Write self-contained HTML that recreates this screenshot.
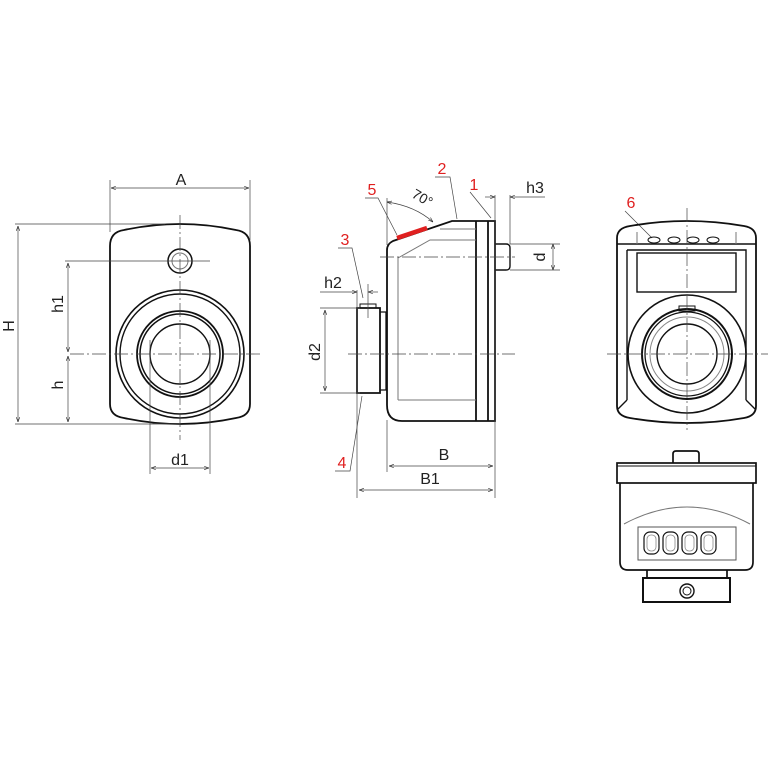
<!DOCTYPE html>
<html><head><style>html,body{margin:0;padding:0;background:#fff}svg{display:block}</style></head>
<body>
<svg width="768" height="768" viewBox="0 0 768 768" xmlns="http://www.w3.org/2000/svg" font-family="Liberation Sans, sans-serif">
<defs>
<marker id="a" viewBox="0 0 10 10" refX="10" refY="5" markerWidth="7" markerHeight="7" orient="auto-start-reverse"><path d="M0,1.5 L10,5 L0,8.5" fill="none" stroke="#222" stroke-width="1.2"/></marker>
</defs>
<g fill="none" stroke="#111">
<!-- LEFT VIEW -->
<path d="M110,246 Q110,232 124,230 Q180,218 236,230 Q250,232 250,246 L250,404 Q250,416 236,418 Q180,430 124,418 Q110,416 110,404 Z" stroke-width="1.8"/>
<circle cx="180" cy="261" r="12" stroke-width="1.5"/>
<circle cx="180" cy="261" r="8" stroke="#777" stroke-width="1"/>
<circle cx="180" cy="354" r="64" stroke-width="1.6"/>
<circle cx="180" cy="354" r="60" stroke-width="1.4"/>
<circle cx="180" cy="354" r="43" stroke-width="1.8"/>
<circle cx="180" cy="354" r="40" stroke-width="1.5"/>
<circle cx="180" cy="354" r="30" stroke-width="1.4"/>
</g>
<g stroke="#444" stroke-width="0.7" fill="none">
<path d="M70,354 H262" stroke-dasharray="14,3,2,3"/>
<path d="M180,215 V440" stroke-dasharray="14,3,2,3"/>
<path d="M110,180 V232 M250,180 V240 M15,224 H165 M15,424 H180 M65,261 H210 M150,340 V474 M210,340 V474"/>
<path d="M111,188 H249" marker-start="url(#a)" marker-end="url(#a)"/>
<path d="M18,226 V422" marker-start="url(#a)" marker-end="url(#a)"/>
<path d="M68,263 V352" marker-start="url(#a)" marker-end="url(#a)"/>
<path d="M68,356 V422" marker-start="url(#a)" marker-end="url(#a)"/>
<path d="M151,468 H209" marker-start="url(#a)" marker-end="url(#a)"/>
</g>
<g font-size="16" fill="#222" text-anchor="middle">
<text x="181" y="185">A</text>
<text x="180" y="465">d1</text>
<text transform="translate(14,326) rotate(-90)">H</text>
<text transform="translate(63,304) rotate(-90)">h1</text>
<text transform="translate(63,385) rotate(-90)">h</text>
</g>

<!-- SIDE VIEW -->
<g fill="none" stroke="#111" stroke-width="1.8">
<path d="M387,250 Q387,244 393,241 L452,221 H495 V421 H402 Q387,421 387,405 Z"/>
<path d="M476,221 V421 M488,221 V421"/>
<path d="M357,308 H380 V393 H357 Z"/>
<path d="M380,312 H386 V390 H380" stroke-width="1.3"/>
<path d="M360,308 V304 H376 V308" stroke-width="1"/>
<path d="M495,244 H506 Q510,244 510,248 V266 Q510,270 506,270 H495" stroke-width="1.4"/>
</g>
<g fill="none" stroke="#777" stroke-width="1">
<path d="M398,400 V258 L430,240 H476 M398,400 H476 M440,229 H476"/>
</g>
<path d="M397,238 L427,228" stroke="#e02020" stroke-width="4.5"/>
<g stroke="#444" stroke-width="0.7" fill="none">
<path d="M380,257 H515 M348,354 H515" stroke-dasharray="14,3,2,3"/>
<path d="M387,198 V245 M495,195 V498 M510,195 V244 M510,244 H560 M510,270 H560 M320,308 H360 M320,393 H360 M387,420 V472 M357,290 V498 M368,284 V318"/>
<path d="M485,197 H495" marker-end="url(#a)"/>
<path d="M545,197 H510" marker-end="url(#a)"/>
<path d="M553,244 V270" marker-start="url(#a)" marker-end="url(#a)"/>
<path d="M325,310 V391" marker-start="url(#a)" marker-end="url(#a)"/>
<path d="M320,292 H357" marker-end="url(#a)"/>
<path d="M378,292 H368" marker-end="url(#a)"/>
<path d="M389,466 H493" marker-start="url(#a)" marker-end="url(#a)"/>
<path d="M359,490 H493" marker-start="url(#a)" marker-end="url(#a)"/>
<path d="M387,202 Q415,206 433,222" marker-start="url(#a)" marker-end="url(#a)"/>
<path d="M365,198 H378 L397,235 M435,177 H450 L457,219 M470,192 L491,218 M338,248 H352 L363,298 M335,471 H350 L362,396 M625,211 L652,238"/>
</g>
<g font-size="16" fill="#222" text-anchor="middle">
<text x="535" y="193">h3</text>
<text x="333" y="288">h2</text>
<text x="444" y="460">B</text>
<text x="430" y="484">B1</text>
<text transform="translate(545,257) rotate(-90)">d</text>
<text transform="translate(320,352) rotate(-90)">d2</text>
<text transform="translate(420,202) rotate(30)" font-size="14">70°</text>
</g>
<g font-size="16" fill="#e02020" text-anchor="middle">
<text x="372" y="195">5</text>
<text x="442" y="174">2</text>
<text x="474" y="190">1</text>
<text x="345" y="245">3</text>
<text x="342" y="468">4</text>
<text x="631" y="208">6</text>
</g>

<!-- RIGHT TOP VIEW -->
<g fill="none" stroke="#111">
<path d="M617,238 Q617,228 630,226 Q687,216 744,226 Q756,228 756,238 V406 Q756,416 744,418 Q687,428 630,418 Q617,416 617,406 Z" stroke-width="1.8"/>
<path d="M617,244 H756 M627,250 H746 V400 M627,250 V400 M617,410 L627,400 M756,410 L746,400" stroke-width="1.4"/>
<rect x="637" y="253" width="99" height="39" stroke-width="1.4"/>
<path d="M637,232 V244 M736,232 V244" stroke="#777" stroke-width="1"/>
<circle cx="687" cy="354" r="59" stroke-width="1.6"/>
<circle cx="687" cy="354" r="45" stroke-width="2"/>
<circle cx="687" cy="354" r="42" stroke-width="1.3"/>
<circle cx="687" cy="354" r="37" stroke="#888" stroke-width="1"/>
<circle cx="687" cy="354" r="30" stroke-width="1.4"/>
<rect x="679" y="306" width="16" height="5" stroke-width="1"/>
<g stroke-width="1"><ellipse cx="654" cy="240" rx="6" ry="3"/><ellipse cx="674" cy="240" rx="6" ry="3"/><ellipse cx="693" cy="240" rx="6" ry="3"/><ellipse cx="713" cy="240" rx="6" ry="3"/></g>
</g>
<g stroke="#444" stroke-width="0.7" fill="none" stroke-dasharray="14,3,2,3">
<path d="M687,208 V430 M607,354 H768"/>
</g>

<!-- BOTTOM VIEW -->
<g fill="none" stroke="#111" stroke-width="1.7">
<path d="M673,463 V454 Q673,451 676,451 H696 Q699,451 699,454 V463"/>
<rect x="617" y="463" width="139" height="20"/>
<path d="M617,466 H756" stroke-width="1"/>
<path d="M620,483 V562 Q620,570 628,570 H745 Q753,570 753,562 V483"/>
<path d="M624,524 Q687,490 750,524" stroke="#777" stroke-width="1"/>
<rect x="638" y="527" width="98" height="33" stroke="#555" stroke-width="1"/>
<g stroke-width="1.2"><rect x="644" y="532" width="15" height="22" rx="6"/><rect x="663" y="532" width="15" height="22" rx="6"/><rect x="682" y="532" width="15" height="22" rx="6"/><rect x="701" y="532" width="15" height="22" rx="6"/></g>
<g stroke="#888" stroke-width="0.8"><rect x="647" y="535" width="9" height="16" rx="4"/><rect x="666" y="535" width="9" height="16" rx="4"/><rect x="685" y="535" width="9" height="16" rx="4"/><rect x="704" y="535" width="9" height="16" rx="4"/></g>
<path d="M647,570 V578 M727,570 V578"/>
<rect x="643" y="578" width="87" height="24" stroke-width="2"/>
<circle cx="687" cy="591" r="7" stroke-width="1.4"/>
<circle cx="687" cy="591" r="4" stroke-width="1"/>
</g>
</svg>
</body></html>
